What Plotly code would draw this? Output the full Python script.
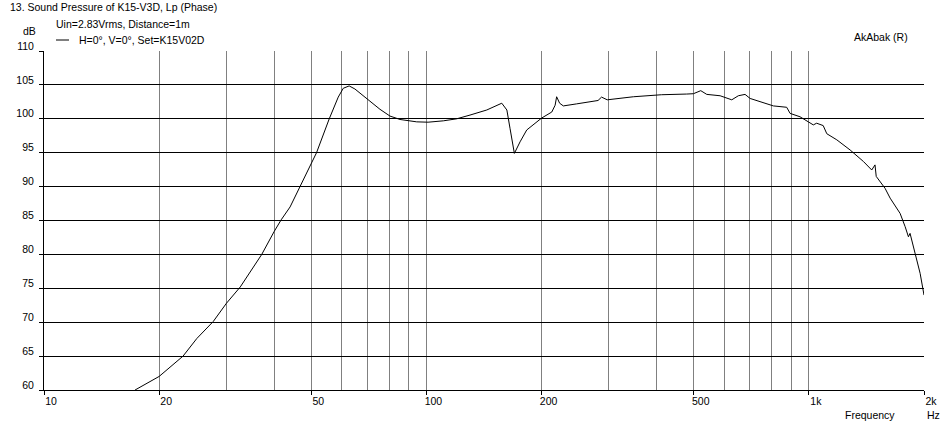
import plotly.graph_objects as go

# Frequency response data (Hz, dB)
freq_hz = [17.3, 20, 23.1, 25.1, 27.7, 30, 32.6, 35.3, 37.1, 40, 41.7, 44.0, 46.7, 50,
           51.6, 55.7, 58.8, 60.6, 62.8, 65, 67, 69.8, 75.6, 80.3, 85.3, 94.3, 101,
           110.7, 120, 130, 143.8, 157.4, 162.3, 165.4, 169.8, 175.7, 182.9, 200,
           212.7, 217, 219, 223, 228, 247, 281, 287, 297, 347.6, 412, 479, 499,
           521.6, 540.7, 586, 628.6, 654, 681, 702, 745.5, 807.6, 875, 893, 948,
           1027, 1048, 1090, 1114, 1183, 1282, 1389, 1460, 1489, 1500, 1582, 1631,
           1732, 1785, 1821, 1839, 1896, 1954, 2000]
spl_db = [60.0, 62.0, 65.0, 67.6, 70.1, 72.8, 75.2, 78.2, 80.0, 83.4, 85.1, 87.0, 90.0, 93.3,
          95.0, 100.0, 103.2, 104.5, 104.85, 104.4, 103.8, 102.9, 101.4, 100.4, 99.9, 99.55, 99.5,
          99.7, 100.0, 100.55, 101.3, 102.3, 101.3, 98.6, 94.9, 96.6, 98.35, 100.1,
          101.0, 102.0, 103.25, 102.3, 101.9, 102.2, 102.7, 103.2, 102.8, 103.25, 103.55, 103.65, 103.7,
          104.15, 103.6, 103.4, 102.8, 103.4, 103.6, 103.0, 102.5, 101.9, 101.7, 100.8, 100.3,
          99.1, 99.35, 99.0, 97.8, 96.9, 95.4, 93.7, 92.45, 93.2, 91.5, 89.75, 88.3,
          86.05, 84.1, 82.6, 83.1, 80.2, 77.2, 74.0]

x_tick_vals = [10, 20, 50, 100, 200, 500, 1000, 2000]
x_tick_text = ["10", "20", "50", "100", "200", "500", "1k", "2k"]
x_grid_vals = [20, 30, 40, 50, 60, 70, 80, 90, 100, 200, 300, 400, 500, 600, 700, 800, 900, 1000, 2000]
y_tick_vals = [60, 65, 70, 75, 80, 85, 90, 95, 100, 105, 110]

FONT = "Liberation Sans"
FS = 10.5

fig = go.Figure()
fig.add_trace(go.Scatter(x=freq_hz, y=spl_db, mode="lines",
                         line=dict(color="black", width=1),
                         name="H=0°, V=0°, Set=K15V02D", showlegend=False,
                         hoverinfo="x+y"))

fig.update_layout(
    width=950, height=427,
    margin=dict(l=44, r=26, t=51, b=37, autoexpand=False),
    paper_bgcolor="white", plot_bgcolor="white",
    font=dict(family=FONT, size=FS, color="black"),
    xaxis=dict(type="log", range=[1, 3.30103],
               tickvals=x_tick_vals, ticktext=x_tick_text,
               ticks="outside", ticklen=4, tickcolor="black",
               ticklabelshift=7, ticklabelstandoff=-3,
               showgrid=True, gridcolor="#808080", gridwidth=1,
               minor=dict(tickvals=x_grid_vals, showgrid=True, gridcolor="#808080", ticks=""),
               showline=True, linecolor="black", linewidth=1,
               zeroline=False, fixedrange=True, automargin=False),
    yaxis=dict(range=[60, 110], tickvals=y_tick_vals,
               ticks="outside", ticklen=4, tickcolor="black",
               ticklabelshift=-5, ticklabelstandoff=3,
               showgrid=True, gridcolor="black", gridwidth=1,
               showline=True, linecolor="black", linewidth=1,
               zeroline=False, fixedrange=True, automargin=False),
)

def px_x(px):
    return (px - 44) / 880.0

def px_y(py):
    return (390 - py) / 339.0

ann = [
    dict(text="13. Sound Pressure of K15-V3D, Lp (Phase)", x=px_x(8), y=px_y(7), xanchor="left"),
    dict(text="Uin=2.83Vrms, Distance=1m", x=px_x(54), y=px_y(24), xanchor="left"),
    dict(text="dB", x=px_x(29), y=px_y(31), xanchor="center"),
    dict(text="H=0°, V=0°, Set=K15V02D", x=px_x(77), y=px_y(40), xanchor="left"),
    dict(text="AkAbak (R)", x=px_x(910), y=px_y(37), xanchor="right"),
    dict(text="Frequency", x=px_x(897), y=px_y(415), xanchor="right"),
    dict(text="Hz", x=px_x(925), y=px_y(415), xanchor="left"),
]
for a in ann:
    fig.add_annotation(xref="paper", yref="paper", yanchor="middle", showarrow=False,
                       font=dict(family=FONT, size=FS, color="black"), **a)

fig.add_shape(type="line", xref="paper", yref="paper",
              x0=px_x(56), x1=px_x(69), y0=px_y(40), y1=px_y(40),
              line=dict(color="black", width=1))

fig.write_html("out.html", config={"displayModeBar": False},
               post_script="document.body.style.margin='0';document.body.style.overflow='hidden';")
